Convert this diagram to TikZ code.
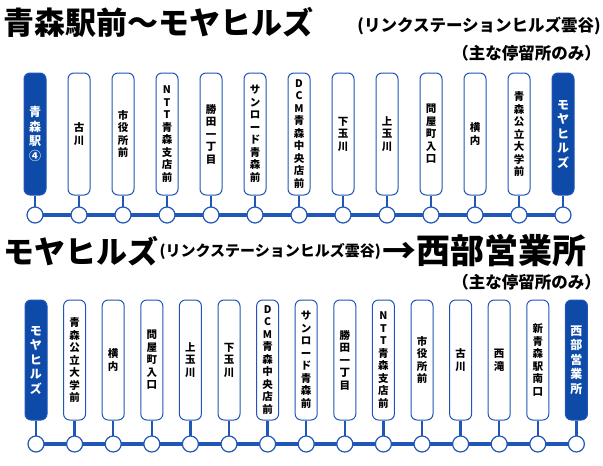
\documentclass[tikz,border=0pt]{standalone}
\usepackage{fontspec}
\setmainfont{Noto Sans CJK JP}
\usetikzlibrary{positioning}
\definecolor{routeblue}{HTML}{1F56B8}
\definecolor{termblue}{HTML}{0E4AA8}

\begin{document}
\begin{tikzpicture}[
    x=1pt, y=-1pt,
    every node/.style={align=center, inner sep=0pt},
    stop/.style={rectangle, rounded corners=6pt, minimum width=22pt, minimum height=122pt, draw=routeblue, line width=1pt, fill=white, font=\fontsize{10.5}{12.5}\selectfont\bfseries},
    terminal/.style={stop, fill=termblue, text=white, font=\fontsize{12}{14.5}\selectfont\bfseries},
    halt/.style={circle, minimum size=16pt, draw=routeblue, line width=1.2pt, fill=white},
    route/.style={draw=routeblue, line width=3.5pt},
    stub/.style={draw=routeblue, line width=2.5pt},
    title/.style={font=\fontsize{31}{34}\selectfont\bfseries},
    subtitle/.style={font=\fontsize{16.5}{19}\selectfont\bfseries}
]
\useasboundingbox (0,0) rectangle (603,466);

% Titles
\node (t1) [title, anchor=west] at (3,22) {青森駅前〜モヤヒルズ};
\node (s1) [subtitle, anchor=east] at (601,26) {(リンクステーションヒルズ雲谷)};
\node (n1) [subtitle, anchor=east] at (601,53) {（主な停留所のみ）};
\node (t2) [title, anchor=west] at (3,251) {モヤヒルズ};
\node (s2) [subtitle, font=\fontsize{15}{17}\selectfont\bfseries, right=1pt of t2] {(リンクステーションヒルズ雲谷)};
\node (t3) [title, font=\fontsize{34}{36}\selectfont\bfseries, right=1pt of s2] {→西部営業所};
\node (n2) [subtitle, anchor=east] at (601,282) {（主な停留所のみ）};

% Upper route
\foreach \i/\txt in {1/{青\\森\\駅\\④},2/{古\\川},3/{市\\役\\所\\前},4/{N\\T\\T\\青\\森\\支\\店\\前},
    5/{勝\\田\\一\\丁\\目},6/{サ\\ン\\ロ\\ー\\ド\\青\\森\\前},7/{D\\C\\M\\青\\森\\中\\央\\店\\前},
    8/{下\\玉\\川},9/{上\\玉\\川},10/{問\\屋\\町\\入\\口},11/{横\\内},12/{青\\森\\公\\立\\大\\学\\前},13/{モ\\ヤ\\ヒ\\ル\\ズ}}{
  \ifnum\i=1 \def\sty{terminal}\else\ifnum\i=13 \def\sty{terminal}\else\def\sty{stop}\fi\fi
  \node (up\i) [\sty] at ({35+44*(\i-1)},134) {\txt};
  \coordinate (uc\i) at ({35+44*(\i-1)},215);
}
\draw [route] (uc1) -- (uc13);
\foreach \i in {1,...,13}{
  \draw [stub] (up\i.south) -- (uc\i);
  \node (uh\i) [halt] at (uc\i) {};
}

% Lower route
\foreach \i/\txt in {1/{モ\\ヤ\\ヒ\\ル\\ズ},2/{青\\森\\公\\立\\大\\学\\前},3/{横\\内},4/{問\\屋\\町\\入\\口},
    5/{上\\玉\\川},6/{下\\玉\\川},7/{D\\C\\M\\青\\森\\中\\央\\店\\前},8/{サ\\ン\\ロ\\ー\\ド\\青\\森\\前},
    9/{勝\\田\\一\\丁\\目},10/{N\\T\\T\\青\\森\\支\\店\\前},11/{市\\役\\所\\前},12/{古\\川},13/{西\\滝},
    14/{新\\青\\森\\駅\\南\\口},15/{西\\部\\営\\業\\所}}{
  \ifnum\i=1 \def\sty{terminal}\else\ifnum\i=15 \def\sty{terminal}\else\def\sty{stop}\fi\fi
  \node (lo\i) [\sty, minimum height=120pt] at ({36+38.6*(\i-1)},360) {\txt};
  \coordinate (lc\i) at ({36+38.6*(\i-1)},444);
}
\draw [route] (lc1) -- (lc15);
\foreach \i in {1,...,15}{
  \draw [stub] (lo\i.south) -- (lc\i);
  \node (lh\i) [halt] at (lc\i) {};
}
\end{tikzpicture}
\end{document}
